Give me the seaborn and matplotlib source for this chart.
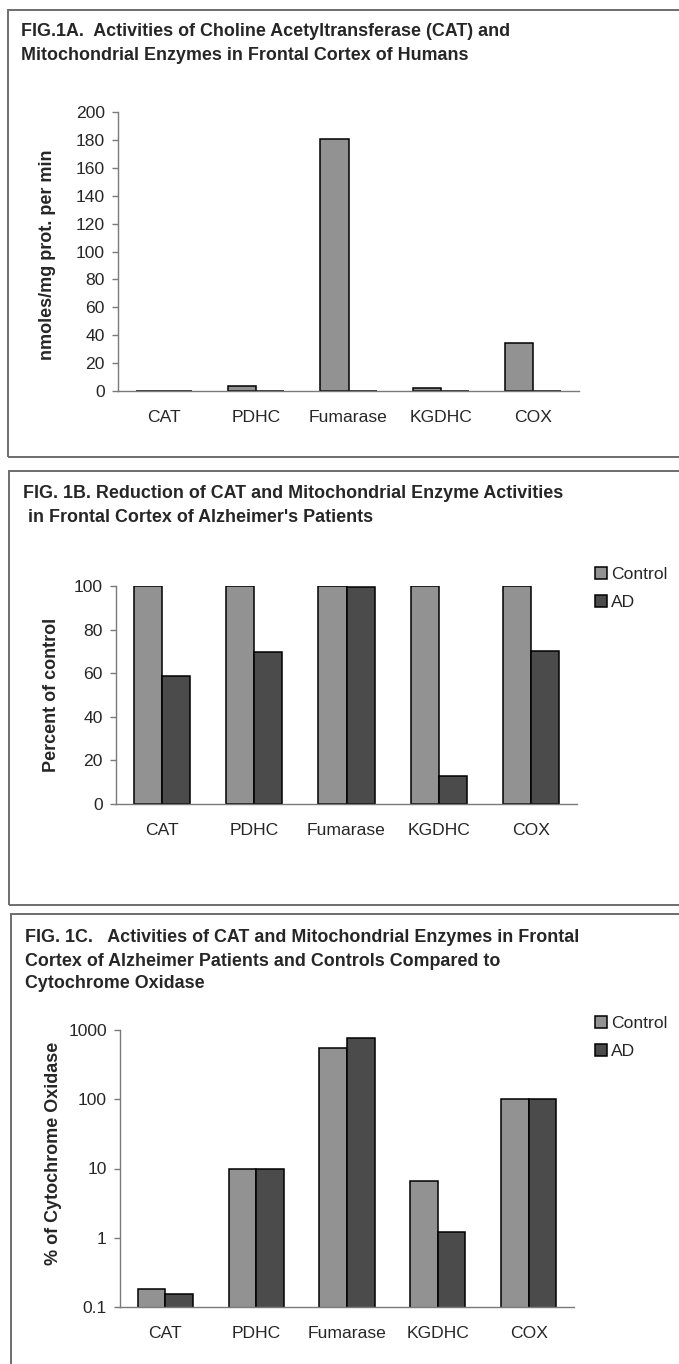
"""Fig.1 A-C: CAT and mitochondrial enzyme activities (frontal cortex)."""
import matplotlib
matplotlib.use("Agg")
import matplotlib.pyplot as plt
import pandas as pd
import seaborn as sns
from matplotlib.patches import Rectangle
from matplotlib.ticker import FixedLocator, NullLocator

W, H = 679, 1364

enzymes = ["CAT", "PDHC", "Fumarase", "KGDHC", "COX"]

# Fig.1A - nmoles/mg prot. per min (second Excel series is empty)
activity_a = [0.05, 3.8, 181, 2.4, 34.3]
blank_a = [0, 0, 0, 0, 0]

# Fig.1B - percent of control
control_b = [100, 100, 100, 100, 100]
ad_b = [58.7, 69.5, 99.5, 12.8, 70.3]

# Fig.1C - % of cytochrome oxidase (log scale)
control_c = [0.18, 10, 541, 6.6, 100]
ad_c = [0.152, 10, 769, 1.2, 100]

title_a = ["FIG.1A.  Activities of Choline Acetyltransferase (CAT) and",
           "Mitochondrial Enzymes in Frontal Cortex of Humans"]
title_b = ["FIG. 1B. Reduction of CAT and Mitochondrial Enzyme Activities",
           " in Frontal Cortex of Alzheimer's Patients"]
title_c = ["FIG. 1C.   Activities of CAT and Mitochondrial Enzymes in Frontal",
           "Cortex of Alzheimer Patients and Controls Compared to",
           "Cytochrome Oxidase"]

CTRL_COLOR = "#929292"
AD_COLOR = "#4b4b4b"
AXIS_COLOR = "#7a7a7a"
TITLE_FS = 12.9
LABEL_FS = 13
TICK_FS = 12.6

sns.set_style("white")
plt.rcParams["font.family"] = ["Liberation Sans", "DejaVu Sans"]

fig = plt.figure(figsize=(W / 100, H / 100), dpi=100)


def fx(px):
    return px / W


def fy(py):
    return 1 - py / H


def add_axes_px(left, top, right, bottom):
    return fig.add_axes([fx(left), fy(bottom), (right - left) / W, (bottom - top) / H])


def add_frame(left, top, right, bottom):
    fig.add_artist(Rectangle((fx(left), fy(bottom)), (right - left) / W, (bottom - top) / H,
                             transform=fig.transFigure, fill=False, ec="#6e6e6e", lw=1.4))


def add_title(lines, x, ys):
    for line, y in zip(lines, ys):
        fig.text(fx(x), fy(y), line, fontsize=TITLE_FS, fontweight="bold", ha="left", va="center")


def style_axes(ax):
    sns.despine(ax=ax)
    for side in ("left", "bottom"):
        ax.spines[side].set_color(AXIS_COLOR)
        ax.spines[side].set_linewidth(1.0)
    ax.set_xlim(-0.5, len(enzymes) - 0.5)
    # tick marks between categories, labels centred under each category
    ax.xaxis.set_minor_locator(FixedLocator([i + 0.5 for i in range(len(enzymes))]))
    ax.tick_params(axis="x", which="major", length=0, pad=14, labelsize=TICK_FS)
    ax.tick_params(axis="x", which="minor", length=5, width=1, color=AXIS_COLOR, direction="out")
    ax.tick_params(axis="y", which="major", length=4.5, width=1, color=AXIS_COLOR,
                   direction="out", pad=5, labelsize=TICK_FS, left=True)
    ax.set_xlabel("")
    ax.set_ylabel("")


def add_legend(ax, top_px):
    ax.legend(loc="upper left", bbox_to_anchor=(fx(595), fy(top_px)), bbox_transform=fig.transFigure,
              frameon=False, fontsize=TICK_FS, handlelength=0.7, handleheight=0.7,
              handletextpad=0.2, labelspacing=0.72, borderpad=0, borderaxespad=0)


def grouped(values1, values2, name1, name2):
    return pd.DataFrame({
        "enzyme": enzymes * 2,
        "group": [name1] * len(enzymes) + [name2] * len(enzymes),
        "value": list(values1) + list(values2),
    })


bar_kw = dict(x="enzyme", y="value", hue="group", width=0.61, gap=0,
              edgecolor="black", linewidth=1.1, saturation=1)

# ---- Fig.1A ----
add_frame(8, 10, 700, 457)
add_title(title_a, 21, [32, 55])
ax_a = add_axes_px(118, 112, 579, 391)
df_a = grouped(activity_a, blank_a, "Activity", "blank")
sns.barplot(data=df_a, palette=[CTRL_COLOR, CTRL_COLOR], legend=False, ax=ax_a, **bar_kw)
style_axes(ax_a)
ax_a.set_ylim(0, 200)
ax_a.set_yticks(range(0, 201, 20))
fig.text(fx(48), fy(255), "nmoles/mg prot. per min", rotation=90, fontsize=LABEL_FS,
         fontweight="bold", ha="center", va="center")

# ---- Fig.1B ----
add_frame(8.5, 471, 700, 905)
add_title(title_b, 23, [493, 517])
ax_b = add_axes_px(116, 586, 577, 804)
df_b = grouped(control_b, ad_b, "Control", "AD")
sns.barplot(data=df_b, palette=[CTRL_COLOR, AD_COLOR], ax=ax_b, **bar_kw)
style_axes(ax_b)
ax_b.set_ylim(0, 100)
ax_b.set_yticks(range(0, 101, 20))
fig.text(fx(52), fy(695), "Percent of control", rotation=90, fontsize=LABEL_FS,
         fontweight="bold", ha="center", va="center")
add_legend(ax_b, 567)

# ---- Fig.1C ----
add_frame(11, 914, 700, 1400)
add_title(title_c, 25, [937, 961, 984])
ax_c = add_axes_px(120, 1030, 574, 1307)
df_c = grouped(control_c, ad_c, "Control", "AD")
sns.barplot(data=df_c, palette=[CTRL_COLOR, AD_COLOR], ax=ax_c, **bar_kw)
ax_c.set_yscale("log")
style_axes(ax_c)
ax_c.set_ylim(0.1, 1000)
ax_c.yaxis.set_major_locator(FixedLocator([0.1, 1, 10, 100, 1000]))
ax_c.yaxis.set_minor_locator(NullLocator())
ax_c.set_yticklabels(["0.1", "1", "10", "100", "1000"])
fig.text(fx(54), fy(1153), "% of Cytochrome Oxidase", rotation=90, fontsize=LABEL_FS,
         fontweight="bold", ha="center", va="center")
add_legend(ax_c, 1016)

fig.savefig("out.png", dpi=100)
